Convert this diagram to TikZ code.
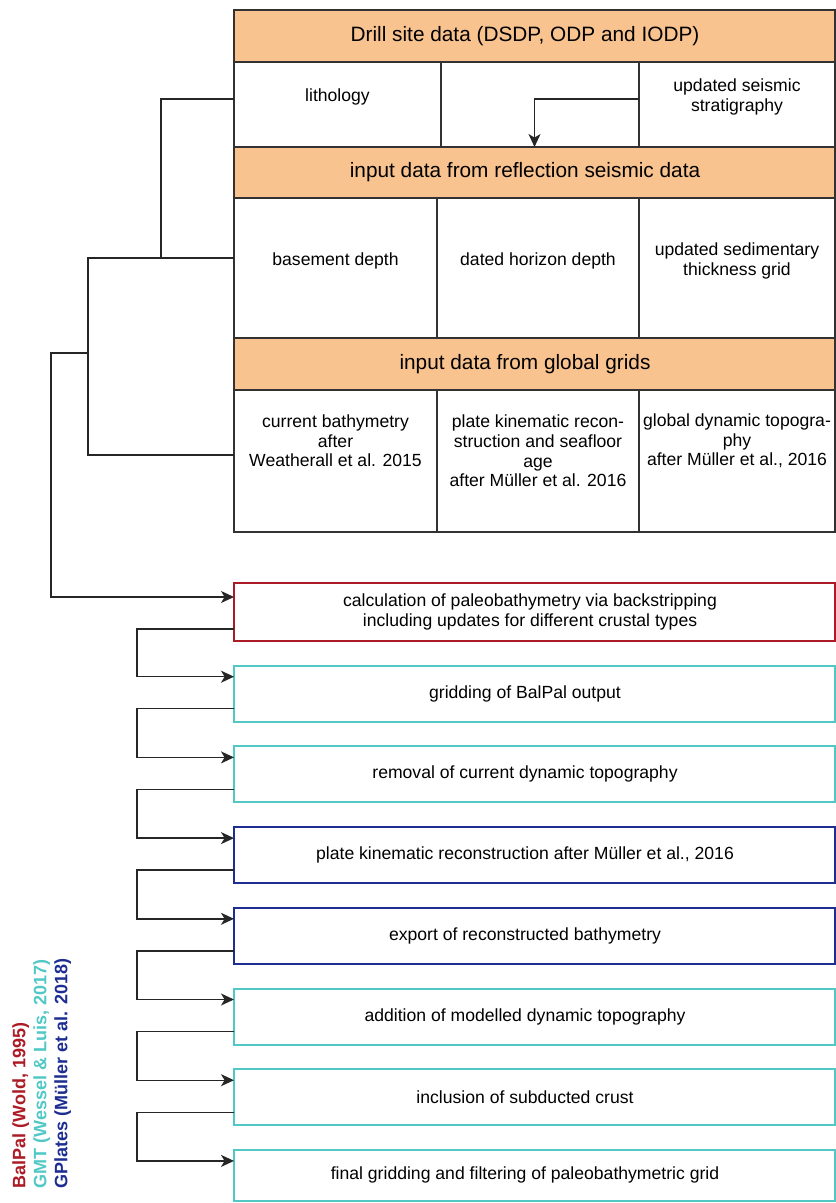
\documentclass[tikz,border=0pt]{standalone}
\usepackage{fontspec}
\setmainfont{Liberation Sans}
\usetikzlibrary{arrows,arrows.meta,positioning}
\definecolor{headorange}{RGB}{249, 195, 143}
\definecolor{gridgray}{RGB}{50, 50, 50}
\definecolor{balred}{RGB}{172, 28, 38}
\definecolor{gmtcyan}{RGB}{82, 200, 198}
\definecolor{gpblue}{RGB}{30, 45, 145}
\tikzstyle{cell} = [rectangle, draw=gridgray, line width=0.7pt, outer sep=0pt, inner sep=0pt, anchor=north west]
\tikzstyle{head} = [cell, fill=headorange, minimum width=300.5pt]
\tikzstyle{celltext} = [align=center, inner sep=0pt, font=\fontsize{8.8}{9.8}\selectfont]
\tikzstyle{headtext} = [inner sep=0pt, xshift=-4.75pt, font=\fontsize{10.4}{12}\selectfont]
\tikzstyle{proc} = [rectangle, draw=#1, line width=1pt, outer sep=0pt, inner sep=0pt, minimum width=300.5pt, minimum height=28pt, anchor=north]
\tikzstyle{proctext} = [celltext, xshift=-4.75pt]
\tikzstyle{legend} = [align=left, inner sep=0pt, font=\bfseries\fontsize{9}{10.5}\selectfont]
\tikzstyle{tline} = [draw=black!85, line width=0.7pt]
\tikzstyle{tedge} = [tline, -{Stealth[length=6.5pt, width=6pt, inset=1.8pt]}]
\begin{document}
\begin{tikzpicture}[x=0.5pt, y=0.5pt]
\useasboundingbox (0,0) rectangle (835,-1203);

% input table =============================
\node[head, minimum height=26pt, label={[headtext]center:{Drill site data (DSDP, ODP and IODP)}}] (drill) at (234,-10) {};
\node[cell, minimum width=103.5pt, minimum height=42.5pt, below right=0pt of drill.south west, label={[celltext, yshift=3.75pt]center:lithology}] (litho) {};
\node[cell, minimum width=99pt, minimum height=42.5pt, right=0pt of litho] (blank) {};
\node[cell, minimum width=98pt, minimum height=42.5pt, right=0pt of blank, label={[celltext, yshift=3.75pt]center:updated seismic\\stratigraphy}] (strat) {};
\node[head, minimum height=25.5pt, below right=0pt of litho.south west, label={[headtext]center:input data from reflection seismic data}] (seis) {};
\node[cell, minimum width=101.5pt, minimum height=70pt, below right=0pt of seis.south west, label={[celltext, yshift=3.5pt]center:basement depth}] (basement) {};
\node[cell, minimum width=101pt, minimum height=70pt, right=0pt of basement, label={[celltext, yshift=3.5pt]center:dated horizon depth}] (horizon) {};
\node[cell, minimum width=98pt, minimum height=70pt, right=0pt of horizon, label={[celltext, yshift=3.5pt]center:updated sedimentary\\thickness grid}] (sedi) {};
\node[head, minimum height=26pt, below right=0pt of basement.south west, label={[headtext]center:input data from global grids}] (glob) {};
\node[cell, minimum width=101.5pt, minimum height=71pt, below right=0pt of glob.south west, label={[celltext, yshift=10pt]center:current bathymetry\\after\\Weatherall et al. 2015}] (bathy) {};
\node[cell, minimum width=101pt, minimum height=71pt, right=0pt of bathy, label={[celltext, yshift=5pt]center:plate kinematic recon-\\struction and seafloor\\age\\after M\"uller et al. 2016}] (plate) {};
\node[cell, minimum width=98pt, minimum height=71pt, right=0pt of plate, label={[celltext, yshift=10pt]center:{global dynamic topogra-\\phy\\after M\"uller et al., 2016}}] (dyntopo) {};

% processing steps =============================
\node[proc=balred, minimum height=29pt, label={[proctext, xshift=2.5pt]center:calculation of paleobathymetry via backstripping\\including updates for different crustal types}] (calc) at (534.5,-583) {};
\node[proc=gmtcyan, below=12.35pt of calc, label={[proctext]center:gridding of BalPal output}] (gridding) {};
\node[proc=gmtcyan, below=12.35pt of gridding, label={[proctext]center:removal of current dynamic topography}] (removal) {};
\node[proc=gpblue, below=12.35pt of removal, label={[proctext]center:{plate kinematic reconstruction after M\"uller et al., 2016}}] (recon) {};
\node[proc=gpblue, below=12.35pt of recon, label={[proctext]center:export of reconstructed bathymetry}] (export) {};
\node[proc=gmtcyan, below=12.35pt of export, label={[proctext]center:addition of modelled dynamic topography}] (addition) {};
\node[proc=gmtcyan, below=12.35pt of addition, label={[proctext]center:inclusion of subducted crust}] (subduct) {};
\node[proc=gmtcyan, minimum height=25.5pt, below=12.35pt of subduct, label={[proctext]center:final gridding and filtering of paleobathymetric grid}] (final) {};

% legend =============================
\node[legend, rotate=90, anchor=north west] (legend) at (12,-1189) {\textcolor{balred}{BalPal (Wold, 1995)}\\\textcolor{gmtcyan}{GMT (Wessel \& Luis, 2017)}\\\textcolor{gpblue}{GPlates (M\"uller et al. 2018)}};

% edges =============================
\coordinate (jtop) at ([shift={(-73,10)}]basement.west);
\coordinate (jmid) at ([shift={(-146,-85)}]basement.west);
\path[tedge] ([yshift=2.75pt]strat.west) -| (seis.north);
\path[tline] ([yshift=2.75pt]litho.west) -| (jtop);
\path[tline] ([yshift=5pt]basement.west) -- ++(-146,0) |- ([yshift=3pt]bathy.west);
\path[tedge] (jmid) -- ++(-37,0) |- ([yshift=-7pt]calc.north west);
\path[tedge] ([yshift=6pt]calc.south west) -- ++(-97,0) |- ([yshift=-5.5pt]gridding.north west);
\path[tedge] ([yshift=6.5pt]gridding.south west) -- ++(-97,0) |- ([yshift=-5.5pt]removal.north west);
\path[tedge] ([yshift=6.5pt]removal.south west) -- ++(-97,0) |- ([yshift=-5.5pt]recon.north west);
\path[tedge] ([yshift=6.5pt]recon.south west) -- ++(-97,0) |- ([yshift=-5.5pt]export.north west);
\path[tedge] ([yshift=6.5pt]export.south west) -- ++(-97,0) |- ([yshift=-5.5pt]addition.north west);
\path[tedge] ([yshift=6.5pt]addition.south west) -- ++(-97,0) |- ([yshift=-5.5pt]subduct.north west);
\path[tedge] ([yshift=6.5pt]subduct.south west) -- ++(-97,0) |- ([yshift=-5.5pt]final.north west);

\end{tikzpicture}
\end{document}
